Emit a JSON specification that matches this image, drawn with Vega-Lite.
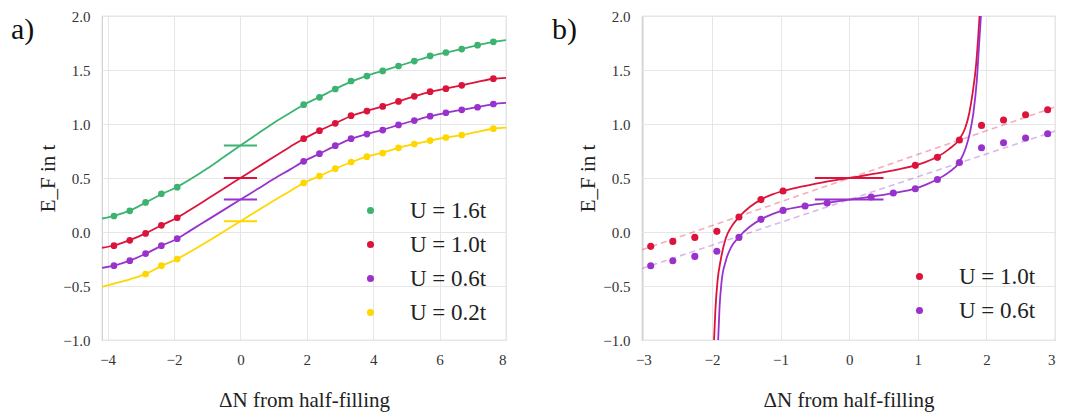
{
  "$schema": "https://vega.github.io/schema/vega-lite/v6.json",
  "padding": {"left": 10, "top": 8, "right": 5, "bottom": 5},
  "background": "white",
  "config": {
    "font": "Liberation Serif, Times New Roman, Times, serif",
    "style": {
      "guide-label": {"font": "Liberation Serif, Times New Roman, Times, serif"},
      "guide-title": {"font": "Liberation Serif, Times New Roman, Times, serif"}
    },
    "view": {"stroke": "#cfcfcf", "strokeWidth": 1.2},
    "axis": {
      "grid": true, "gridColor": "#e6e6e6", "gridWidth": 1, "domain": false, "ticks": false,
      "labelFont": "Liberation Serif, Times New Roman, Times, serif", "labelFontSize": 15, "labelColor": "#333333",
      "titleFont": "Liberation Serif, Times New Roman, Times, serif", "titleFontSize": 21, "titleFontWeight": "normal", "titleColor": "#222222"
    },
    "axisX": {"labelPadding": 12, "titlePadding": 22},
    "axisY": {"labelPadding": 12, "titlePadding": 4},
    "legend": {
      "padding": 0, "labelFont": "Liberation Serif, Times New Roman, Times, serif", "labelFontSize": 23,
      "labelColor": "#222222", "symbolType": "circle", "symbolSize": 50, "symbolStrokeWidth": 0,
      "labelOffset": 28, "rowPadding": 10
    },
    "title": {"anchor": "start", "frame": "group", "fontSize": 30, "fontWeight": "normal", "font": "Liberation Serif, Times New Roman, Times, serif", "color": "#111111", "offset": 0, "baseline": "alphabetic"}
  },
  "datasets": {
    "dotsA": [
      {"U": "U = 1.6t", "dN": -3.810, "EF": 0.148}, {"U": "U = 1.6t", "dN": -3.333, "EF": 0.196}, {"U": "U = 1.6t", "dN": -2.857, "EF": 0.274}, {"U": "U = 1.6t", "dN": -2.381, "EF": 0.354}, {"U": "U = 1.6t", "dN": -1.905, "EF": 0.415},
      {"U": "U = 1.6t", "dN": 1.905, "EF": 1.179}, {"U": "U = 1.6t", "dN": 2.381, "EF": 1.247}, {"U": "U = 1.6t", "dN": 2.857, "EF": 1.324}, {"U": "U = 1.6t", "dN": 3.333, "EF": 1.398}, {"U": "U = 1.6t", "dN": 3.810, "EF": 1.444}, {"U": "U = 1.6t", "dN": 4.286, "EF": 1.491}, {"U": "U = 1.6t", "dN": 4.762, "EF": 1.537}, {"U": "U = 1.6t", "dN": 5.238, "EF": 1.583}, {"U": "U = 1.6t", "dN": 5.714, "EF": 1.630}, {"U": "U = 1.6t", "dN": 6.190, "EF": 1.662}, {"U": "U = 1.6t", "dN": 6.667, "EF": 1.694}, {"U": "U = 1.6t", "dN": 7.143, "EF": 1.730}, {"U": "U = 1.6t", "dN": 7.619, "EF": 1.761},
      {"U": "U = 1.0t", "dN": -3.810, "EF": -0.127}, {"U": "U = 1.0t", "dN": -3.333, "EF": -0.077}, {"U": "U = 1.0t", "dN": -2.857, "EF": -0.013}, {"U": "U = 1.0t", "dN": -2.381, "EF": 0.062}, {"U": "U = 1.0t", "dN": -1.905, "EF": 0.132},
      {"U": "U = 1.0t", "dN": 1.905, "EF": 0.864}, {"U": "U = 1.0t", "dN": 2.381, "EF": 0.938}, {"U": "U = 1.0t", "dN": 2.857, "EF": 1.006}, {"U": "U = 1.0t", "dN": 3.333, "EF": 1.077}, {"U": "U = 1.0t", "dN": 3.810, "EF": 1.120}, {"U": "U = 1.0t", "dN": 4.286, "EF": 1.163}, {"U": "U = 1.0t", "dN": 4.762, "EF": 1.209}, {"U": "U = 1.0t", "dN": 5.238, "EF": 1.256}, {"U": "U = 1.0t", "dN": 5.714, "EF": 1.299}, {"U": "U = 1.0t", "dN": 6.190, "EF": 1.327}, {"U": "U = 1.0t", "dN": 6.667, "EF": 1.358}, {"U": "U = 1.0t", "dN": 7.619, "EF": 1.420},
      {"U": "U = 0.6t", "dN": -3.810, "EF": -0.312}, {"U": "U = 0.6t", "dN": -3.333, "EF": -0.266}, {"U": "U = 0.6t", "dN": -2.857, "EF": -0.201}, {"U": "U = 0.6t", "dN": -2.381, "EF": -0.127}, {"U": "U = 0.6t", "dN": -1.905, "EF": -0.062},
      {"U": "U = 0.6t", "dN": 1.905, "EF": 0.654}, {"U": "U = 0.6t", "dN": 2.381, "EF": 0.725}, {"U": "U = 0.6t", "dN": 2.857, "EF": 0.799}, {"U": "U = 0.6t", "dN": 3.333, "EF": 0.864}, {"U": "U = 0.6t", "dN": 3.810, "EF": 0.907}, {"U": "U = 0.6t", "dN": 4.286, "EF": 0.944}, {"U": "U = 0.6t", "dN": 4.762, "EF": 0.991}, {"U": "U = 0.6t", "dN": 5.238, "EF": 1.032}, {"U": "U = 0.6t", "dN": 5.714, "EF": 1.072}, {"U": "U = 0.6t", "dN": 6.190, "EF": 1.104}, {"U": "U = 0.6t", "dN": 6.667, "EF": 1.131}, {"U": "U = 0.6t", "dN": 7.143, "EF": 1.155}, {"U": "U = 0.6t", "dN": 7.619, "EF": 1.185},
      {"U": "U = 0.2t", "dN": -2.857, "EF": -0.389}, {"U": "U = 0.2t", "dN": -2.381, "EF": -0.312}, {"U": "U = 0.2t", "dN": -1.905, "EF": -0.250},
      {"U": "U = 0.2t", "dN": 1.905, "EF": 0.454}, {"U": "U = 0.2t", "dN": 2.381, "EF": 0.518}, {"U": "U = 0.2t", "dN": 2.857, "EF": 0.586}, {"U": "U = 0.2t", "dN": 3.333, "EF": 0.648}, {"U": "U = 0.2t", "dN": 3.810, "EF": 0.697}, {"U": "U = 0.2t", "dN": 4.286, "EF": 0.731}, {"U": "U = 0.2t", "dN": 4.762, "EF": 0.779}, {"U": "U = 0.2t", "dN": 5.238, "EF": 0.815}, {"U": "U = 0.2t", "dN": 5.714, "EF": 0.847}, {"U": "U = 0.2t", "dN": 6.190, "EF": 0.875}, {"U": "U = 0.2t", "dN": 6.667, "EF": 0.898}, {"U": "U = 0.2t", "dN": 7.619, "EF": 0.957}
    ],
    "curvesA": [
      {"U": "U = 1.6t", "dN": -4.17, "EF": 0.125}, {"U": "U = 1.6t", "dN": -3.810, "EF": 0.150}, {"U": "U = 1.6t", "dN": -3.333, "EF": 0.198}, {"U": "U = 1.6t", "dN": -2.857, "EF": 0.272}, {"U": "U = 1.6t", "dN": -2.381, "EF": 0.350}, {"U": "U = 1.6t", "dN": -1.905, "EF": 0.417}, {"U": "U = 1.6t", "dN": -1.5, "EF": 0.490}, {"U": "U = 1.6t", "dN": -1.0, "EF": 0.588}, {"U": "U = 1.6t", "dN": -0.5, "EF": 0.694}, {"U": "U = 1.6t", "dN": 0.0, "EF": 0.800}, {"U": "U = 1.6t", "dN": 0.5, "EF": 0.906}, {"U": "U = 1.6t", "dN": 1.0, "EF": 1.010}, {"U": "U = 1.6t", "dN": 1.5, "EF": 1.104}, {"U": "U = 1.6t", "dN": 1.905, "EF": 1.179}, {"U": "U = 1.6t", "dN": 2.381, "EF": 1.250}, {"U": "U = 1.6t", "dN": 2.857, "EF": 1.324}, {"U": "U = 1.6t", "dN": 3.333, "EF": 1.393}, {"U": "U = 1.6t", "dN": 3.810, "EF": 1.446}, {"U": "U = 1.6t", "dN": 4.286, "EF": 1.492}, {"U": "U = 1.6t", "dN": 4.762, "EF": 1.537}, {"U": "U = 1.6t", "dN": 5.238, "EF": 1.582}, {"U": "U = 1.6t", "dN": 5.714, "EF": 1.627}, {"U": "U = 1.6t", "dN": 6.190, "EF": 1.662}, {"U": "U = 1.6t", "dN": 6.667, "EF": 1.695}, {"U": "U = 1.6t", "dN": 7.143, "EF": 1.729}, {"U": "U = 1.6t", "dN": 7.619, "EF": 1.760}, {"U": "U = 1.6t", "dN": 8.0, "EF": 1.776},
      {"U": "U = 1.0t", "dN": -4.17, "EF": -0.146}, {"U": "U = 1.0t", "dN": -3.810, "EF": -0.125}, {"U": "U = 1.0t", "dN": -3.333, "EF": -0.076}, {"U": "U = 1.0t", "dN": -2.857, "EF": -0.013}, {"U": "U = 1.0t", "dN": -2.381, "EF": 0.062}, {"U": "U = 1.0t", "dN": -1.905, "EF": 0.132}, {"U": "U = 1.0t", "dN": -1.5, "EF": 0.208}, {"U": "U = 1.0t", "dN": -1.0, "EF": 0.305}, {"U": "U = 1.0t", "dN": -0.5, "EF": 0.403}, {"U": "U = 1.0t", "dN": 0.0, "EF": 0.500}, {"U": "U = 1.0t", "dN": 0.5, "EF": 0.597}, {"U": "U = 1.0t", "dN": 1.0, "EF": 0.694}, {"U": "U = 1.0t", "dN": 1.5, "EF": 0.790}, {"U": "U = 1.0t", "dN": 1.905, "EF": 0.864}, {"U": "U = 1.0t", "dN": 2.381, "EF": 0.938}, {"U": "U = 1.0t", "dN": 2.857, "EF": 1.006}, {"U": "U = 1.0t", "dN": 3.333, "EF": 1.074}, {"U": "U = 1.0t", "dN": 3.810, "EF": 1.120}, {"U": "U = 1.0t", "dN": 4.286, "EF": 1.163}, {"U": "U = 1.0t", "dN": 4.762, "EF": 1.209}, {"U": "U = 1.0t", "dN": 5.238, "EF": 1.256}, {"U": "U = 1.0t", "dN": 5.714, "EF": 1.298}, {"U": "U = 1.0t", "dN": 6.190, "EF": 1.328}, {"U": "U = 1.0t", "dN": 6.667, "EF": 1.358}, {"U": "U = 1.0t", "dN": 7.143, "EF": 1.390}, {"U": "U = 1.0t", "dN": 7.619, "EF": 1.419}, {"U": "U = 1.0t", "dN": 8.0, "EF": 1.428},
      {"U": "U = 0.6t", "dN": -4.17, "EF": -0.332}, {"U": "U = 0.6t", "dN": -3.810, "EF": -0.311}, {"U": "U = 0.6t", "dN": -3.333, "EF": -0.265}, {"U": "U = 0.6t", "dN": -2.857, "EF": -0.201}, {"U": "U = 0.6t", "dN": -2.381, "EF": -0.128}, {"U": "U = 0.6t", "dN": -1.905, "EF": -0.062}, {"U": "U = 0.6t", "dN": -1.5, "EF": 0.015}, {"U": "U = 0.6t", "dN": -1.0, "EF": 0.110}, {"U": "U = 0.6t", "dN": -0.5, "EF": 0.205}, {"U": "U = 0.6t", "dN": 0.0, "EF": 0.300}, {"U": "U = 0.6t", "dN": 0.5, "EF": 0.395}, {"U": "U = 0.6t", "dN": 1.0, "EF": 0.490}, {"U": "U = 0.6t", "dN": 1.5, "EF": 0.580}, {"U": "U = 0.6t", "dN": 1.905, "EF": 0.654}, {"U": "U = 0.6t", "dN": 2.381, "EF": 0.725}, {"U": "U = 0.6t", "dN": 2.857, "EF": 0.797}, {"U": "U = 0.6t", "dN": 3.333, "EF": 0.862}, {"U": "U = 0.6t", "dN": 3.810, "EF": 0.907}, {"U": "U = 0.6t", "dN": 4.286, "EF": 0.946}, {"U": "U = 0.6t", "dN": 4.762, "EF": 0.991}, {"U": "U = 0.6t", "dN": 5.238, "EF": 1.032}, {"U": "U = 0.6t", "dN": 5.714, "EF": 1.072}, {"U": "U = 0.6t", "dN": 6.190, "EF": 1.104}, {"U": "U = 0.6t", "dN": 6.667, "EF": 1.131}, {"U": "U = 0.6t", "dN": 7.143, "EF": 1.156}, {"U": "U = 0.6t", "dN": 7.619, "EF": 1.184}, {"U": "U = 0.6t", "dN": 8.0, "EF": 1.195},
      {"U": "U = 0.2t", "dN": -4.17, "EF": -0.508}, {"U": "U = 0.2t", "dN": -3.810, "EF": -0.479}, {"U": "U = 0.2t", "dN": -3.333, "EF": -0.438}, {"U": "U = 0.2t", "dN": -2.857, "EF": -0.388}, {"U": "U = 0.2t", "dN": -2.381, "EF": -0.314}, {"U": "U = 0.2t", "dN": -1.905, "EF": -0.250}, {"U": "U = 0.2t", "dN": -1.5, "EF": -0.180}, {"U": "U = 0.2t", "dN": -1.0, "EF": -0.090}, {"U": "U = 0.2t", "dN": -0.5, "EF": 0.005}, {"U": "U = 0.2t", "dN": 0.0, "EF": 0.100}, {"U": "U = 0.2t", "dN": 0.5, "EF": 0.195}, {"U": "U = 0.2t", "dN": 1.0, "EF": 0.290}, {"U": "U = 0.2t", "dN": 1.5, "EF": 0.380}, {"U": "U = 0.2t", "dN": 1.905, "EF": 0.454}, {"U": "U = 0.2t", "dN": 2.381, "EF": 0.518}, {"U": "U = 0.2t", "dN": 2.857, "EF": 0.586}, {"U": "U = 0.2t", "dN": 3.333, "EF": 0.646}, {"U": "U = 0.2t", "dN": 3.810, "EF": 0.697}, {"U": "U = 0.2t", "dN": 4.286, "EF": 0.735}, {"U": "U = 0.2t", "dN": 4.762, "EF": 0.779}, {"U": "U = 0.2t", "dN": 5.238, "EF": 0.815}, {"U": "U = 0.2t", "dN": 5.714, "EF": 0.847}, {"U": "U = 0.2t", "dN": 6.190, "EF": 0.875}, {"U": "U = 0.2t", "dN": 6.667, "EF": 0.898}, {"U": "U = 0.2t", "dN": 7.143, "EF": 0.928}, {"U": "U = 0.2t", "dN": 7.619, "EF": 0.956}, {"U": "U = 0.2t", "dN": 8.0, "EF": 0.966}
    ],
    "segA": [
      {"U": "U = 1.6t", "x1": -0.5, "x2": 0.5, "EF": 0.8},
      {"U": "U = 1.0t", "x1": -0.5, "x2": 0.5, "EF": 0.5},
      {"U": "U = 0.6t", "x1": -0.5, "x2": 0.5, "EF": 0.3},
      {"U": "U = 0.2t", "x1": -0.5, "x2": 0.5, "EF": 0.1}
    ],
    "dotsB": [
      {"U": "U = 1.0t", "dN": -2.893, "EF": -0.133}, {"U": "U = 1.0t", "dN": -2.571, "EF": -0.087}, {"U": "U = 1.0t", "dN": -2.250, "EF": -0.050}, {"U": "U = 1.0t", "dN": -1.929, "EF": 0.006}, {"U": "U = 1.0t", "dN": -1.607, "EF": 0.139}, {"U": "U = 1.0t", "dN": -1.286, "EF": 0.300}, {"U": "U = 1.0t", "dN": -0.964, "EF": 0.380},
      {"U": "U = 1.0t", "dN": 0.964, "EF": 0.617}, {"U": "U = 1.0t", "dN": 1.286, "EF": 0.691}, {"U": "U = 1.0t", "dN": 1.607, "EF": 0.852}, {"U": "U = 1.0t", "dN": 1.929, "EF": 0.987}, {"U": "U = 1.0t", "dN": 2.250, "EF": 1.037}, {"U": "U = 1.0t", "dN": 2.571, "EF": 1.086}, {"U": "U = 1.0t", "dN": 2.893, "EF": 1.132},
      {"U": "U = 0.6t", "dN": -2.893, "EF": -0.312}, {"U": "U = 0.6t", "dN": -2.571, "EF": -0.266}, {"U": "U = 0.6t", "dN": -2.250, "EF": -0.226}, {"U": "U = 0.6t", "dN": -1.929, "EF": -0.179}, {"U": "U = 0.6t", "dN": -1.607, "EF": -0.050}, {"U": "U = 0.6t", "dN": -1.286, "EF": 0.117}, {"U": "U = 0.6t", "dN": -0.964, "EF": 0.200}, {"U": "U = 0.6t", "dN": -0.643, "EF": 0.241}, {"U": "U = 0.6t", "dN": -0.321, "EF": 0.269},
      {"U": "U = 0.6t", "dN": 0.321, "EF": 0.324}, {"U": "U = 0.6t", "dN": 0.643, "EF": 0.361}, {"U": "U = 0.6t", "dN": 0.964, "EF": 0.401}, {"U": "U = 0.6t", "dN": 1.286, "EF": 0.486}, {"U": "U = 0.6t", "dN": 1.607, "EF": 0.643}, {"U": "U = 0.6t", "dN": 1.929, "EF": 0.780}, {"U": "U = 0.6t", "dN": 2.250, "EF": 0.827}, {"U": "U = 0.6t", "dN": 2.571, "EF": 0.870}, {"U": "U = 0.6t", "dN": 2.893, "EF": 0.910}
    ],
    "curvesB": [
      {"U": "U = 1.0t", "dN": -1.970, "EF": -1.0}, {"U": "U = 1.0t", "dN": -1.950, "EF": -0.72}, {"U": "U = 1.0t", "dN": -1.920, "EF": -0.46}, {"U": "U = 1.0t", "dN": -1.870, "EF": -0.25}, {"U": "U = 1.0t", "dN": -1.800, "EF": -0.06}, {"U": "U = 1.0t", "dN": -1.720, "EF": 0.045}, {"U": "U = 1.0t", "dN": -1.607, "EF": 0.139}, {"U": "U = 1.0t", "dN": -1.450, "EF": 0.232}, {"U": "U = 1.0t", "dN": -1.286, "EF": 0.300}, {"U": "U = 1.0t", "dN": -1.120, "EF": 0.348}, {"U": "U = 1.0t", "dN": -0.964, "EF": 0.380}, {"U": "U = 1.0t", "dN": -0.700, "EF": 0.420}, {"U": "U = 1.0t", "dN": -0.400, "EF": 0.458}, {"U": "U = 1.0t", "dN": 0.0, "EF": 0.500}, {"U": "U = 1.0t", "dN": 0.400, "EF": 0.542}, {"U": "U = 1.0t", "dN": 0.700, "EF": 0.578}, {"U": "U = 1.0t", "dN": 0.964, "EF": 0.617}, {"U": "U = 1.0t", "dN": 1.120, "EF": 0.650}, {"U": "U = 1.0t", "dN": 1.286, "EF": 0.696}, {"U": "U = 1.0t", "dN": 1.450, "EF": 0.765}, {"U": "U = 1.0t", "dN": 1.607, "EF": 0.860}, {"U": "U = 1.0t", "dN": 1.690, "EF": 0.960}, {"U": "U = 1.0t", "dN": 1.750, "EF": 1.100}, {"U": "U = 1.0t", "dN": 1.800, "EF": 1.290}, {"U": "U = 1.0t", "dN": 1.850, "EF": 1.550}, {"U": "U = 1.0t", "dN": 1.880, "EF": 1.800}, {"U": "U = 1.0t", "dN": 1.900, "EF": 2.0},
      {"U": "U = 0.6t", "dN": -1.910, "EF": -1.0}, {"U": "U = 0.6t", "dN": -1.890, "EF": -0.70}, {"U": "U = 0.6t", "dN": -1.860, "EF": -0.46}, {"U": "U = 0.6t", "dN": -1.800, "EF": -0.27}, {"U": "U = 0.6t", "dN": -1.720, "EF": -0.14}, {"U": "U = 0.6t", "dN": -1.607, "EF": -0.046}, {"U": "U = 0.6t", "dN": -1.450, "EF": 0.048}, {"U": "U = 0.6t", "dN": -1.286, "EF": 0.117}, {"U": "U = 0.6t", "dN": -1.120, "EF": 0.165}, {"U": "U = 0.6t", "dN": -0.964, "EF": 0.200}, {"U": "U = 0.6t", "dN": -0.643, "EF": 0.241}, {"U": "U = 0.6t", "dN": -0.321, "EF": 0.270}, {"U": "U = 0.6t", "dN": 0.0, "EF": 0.300}, {"U": "U = 0.6t", "dN": 0.321, "EF": 0.328}, {"U": "U = 0.6t", "dN": 0.643, "EF": 0.361}, {"U": "U = 0.6t", "dN": 0.964, "EF": 0.402}, {"U": "U = 0.6t", "dN": 1.120, "EF": 0.438}, {"U": "U = 0.6t", "dN": 1.286, "EF": 0.488}, {"U": "U = 0.6t", "dN": 1.450, "EF": 0.552}, {"U": "U = 0.6t", "dN": 1.607, "EF": 0.648}, {"U": "U = 0.6t", "dN": 1.700, "EF": 0.780}, {"U": "U = 0.6t", "dN": 1.760, "EF": 0.920}, {"U": "U = 0.6t", "dN": 1.810, "EF": 1.100}, {"U": "U = 0.6t", "dN": 1.860, "EF": 1.400}, {"U": "U = 0.6t", "dN": 1.890, "EF": 1.700}, {"U": "U = 0.6t", "dN": 1.920, "EF": 2.0}
    ],
    "dashB": [
      {"U": "U = 1.0t", "dN": -3.02, "EF": -0.165}, {"U": "U = 1.0t", "dN": 3.0, "EF": 1.157},
      {"U": "U = 0.6t", "dN": -3.02, "EF": -0.338}, {"U": "U = 0.6t", "dN": 3.0, "EF": 0.934}
    ],
    "segB": [
      {"U": "U = 1.0t", "x1": -0.5, "x2": 0.5, "EF": 0.5},
      {"U": "U = 0.6t", "x1": -0.5, "x2": 0.5, "EF": 0.3}
    ]
  },
  "spacing": 44,
  "hconcat": [
    {
      "width": 404, "height": 324,
      "title": {"text": "a)", "dx": -91, "dy": 40},
      "layer": [
        {
          "data": {"name": "curvesA"},
          "mark": {"type": "line", "interpolate": "monotone", "strokeWidth": 1.8, "clip": true},
          "encoding": {
            "x": {"field": "dN", "type": "quantitative", "scale": {"domain": [-4.17, 8], "nice": false, "zero": false}, "axis": {"values": [-4, -2, 0, 2, 4, 6, 8], "format": "d", "title": "ΔN from half-filling", "labelFont": "Liberation Serif, Times New Roman, Times, serif"}},
            "y": {"field": "EF", "type": "quantitative", "scale": {"domain": [-1, 2], "nice": false, "zero": false}, "axis": {"values": [-1, -0.5, 0, 0.5, 1, 1.5, 2], "format": ".1f", "title": "E_F in t", "labelFont": "Liberation Serif, Times New Roman, Times, serif"}},
            "stroke": {"field": "U", "type": "nominal", "scale": {"domain": ["U = 0.2t", "U = 0.6t", "U = 1.0t", "U = 1.6t"], "range": ["#ffd700", "#9932cc", "#dc143c", "#3cb371"]}, "legend": null}
          }
        },
        {
          "data": {"name": "segA"},
          "mark": {"type": "rule", "strokeWidth": 2},
          "encoding": {
            "x": {"field": "x1", "type": "quantitative", "axis": {"title": "ΔN from half-filling"}},
            "x2": {"field": "x2"},
            "y": {"field": "EF", "type": "quantitative", "axis": {"title": "E_F in t"}},
            "stroke": {"field": "U", "type": "nominal", "legend": null}
          }
        },
        {
          "data": {"name": "dotsA"},
          "mark": {"type": "circle", "size": 45, "opacity": 1},
          "encoding": {
            "x": {"field": "dN", "type": "quantitative", "axis": {"title": "ΔN from half-filling"}},
            "y": {"field": "EF", "type": "quantitative", "axis": {"title": "E_F in t"}},
            "color": {"field": "U", "type": "nominal", "scale": {"domain": ["U = 1.6t", "U = 1.0t", "U = 0.6t", "U = 0.2t"], "range": ["#3cb371", "#dc143c", "#9932cc", "#ffd700"]}, "legend": {"orient": "none", "title": null, "legendX": 257, "legendY": 183, "labelFont": "Liberation Serif, Times New Roman, Times, serif"}}
          }
        }
      ]
    },
    {
      "width": 413, "height": 324,
      "title": {"text": "b)", "dx": -90, "dy": 40},
      "layer": [
        {
          "data": {"name": "dashB"},
          "mark": {"type": "line", "strokeWidth": 1.6, "strokeDash": [6, 4], "opacity": 0.35, "clip": true},
          "encoding": {
            "x": {"field": "dN", "type": "quantitative", "scale": {"domain": [-3.02, 3], "nice": false, "zero": false}, "axis": {"values": [-3, -2, -1, 0, 1, 2, 3], "format": "d", "title": "ΔN from half-filling", "labelFont": "Liberation Serif, Times New Roman, Times, serif"}},
            "y": {"field": "EF", "type": "quantitative", "scale": {"domain": [-1, 2], "nice": false, "zero": false}, "axis": {"values": [-1, -0.5, 0, 0.5, 1, 1.5, 2], "format": ".1f", "title": "E_F in t", "labelFont": "Liberation Serif, Times New Roman, Times, serif"}},
            "stroke": {"field": "U", "type": "nominal", "scale": {"domain": ["U = 0.6t", "U = 1.0t"], "range": ["#9932cc", "#dc143c"]}, "legend": null}
          }
        },
        {
          "data": {"name": "curvesB"},
          "mark": {"type": "line", "interpolate": "monotone", "strokeWidth": 1.8, "clip": true},
          "encoding": {
            "x": {"field": "dN", "type": "quantitative", "axis": {"title": "ΔN from half-filling"}},
            "y": {"field": "EF", "type": "quantitative", "axis": {"title": "E_F in t"}},
            "stroke": {"field": "U", "type": "nominal", "legend": null}
          }
        },
        {
          "data": {"name": "segB"},
          "mark": {"type": "rule", "strokeWidth": 2},
          "encoding": {
            "x": {"field": "x1", "type": "quantitative", "axis": {"title": "ΔN from half-filling"}},
            "x2": {"field": "x2"},
            "y": {"field": "EF", "type": "quantitative", "axis": {"title": "E_F in t"}},
            "stroke": {"field": "U", "type": "nominal", "legend": null}
          }
        },
        {
          "data": {"name": "dotsB"},
          "mark": {"type": "circle", "size": 50, "opacity": 1},
          "encoding": {
            "x": {"field": "dN", "type": "quantitative", "axis": {"title": "ΔN from half-filling"}},
            "y": {"field": "EF", "type": "quantitative", "axis": {"title": "E_F in t"}},
            "color": {"field": "U", "type": "nominal", "scale": {"domain": ["U = 1.0t", "U = 0.6t"], "range": ["#dc143c", "#9932cc"]}, "legend": {"orient": "none", "title": null, "legendX": 266, "legendY": 249, "labelFont": "Liberation Serif, Times New Roman, Times, serif"}}
          }
        }
      ]
    }
  ],
  "resolve": {"scale": {"x": "independent", "y": "independent", "color": "independent", "stroke": "independent"}, "legend": {"color": "independent"}, "axis": {"x": "independent", "y": "independent"}}
}
